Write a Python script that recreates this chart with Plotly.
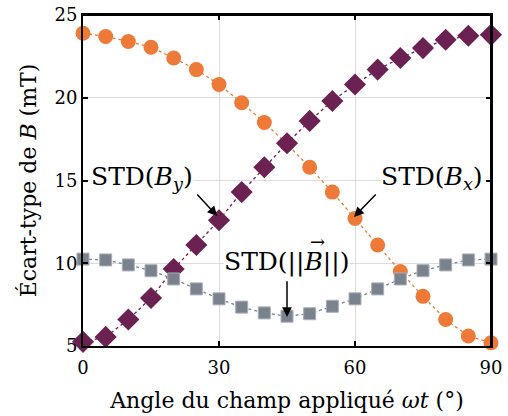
import plotly.graph_objects as go

angle = [0, 5, 10, 15, 20, 25, 30, 35, 40, 45, 50, 55, 60, 65, 70, 75, 80, 85, 90]
std_bx = [23.9, 23.7, 23.4, 23.05, 22.4, 21.7, 20.8, 19.7, 18.5, 17.2, 15.8, 14.3, 12.7, 11.1, 9.5, 8.0, 6.6, 5.6, 5.2]
std_by = [5.25, 5.55, 6.6, 7.9, 9.65, 11.1, 12.6, 14.3, 15.8, 17.25, 18.6, 19.8, 20.8, 21.7, 22.4, 23.0, 23.5, 23.75, 23.8]
std_bn = [10.25, 10.2, 9.9, 9.55, 9.05, 8.45, 7.85, 7.35, 7.0, 6.8, 6.95, 7.4, 7.85, 8.45, 9.05, 9.55, 9.9, 10.2, 10.25]

x_ticks = [0, 30, 60, 90]
y_ticks = [5, 10, 15, 20, 25]

c_bx = "#ED7A38"
c_by = "#6B2253"
c_bn = "#7A828E"

FONT = "DejaVu Serif"

fig = go.Figure()
fig.add_trace(go.Scatter(x=angle, y=std_bx, mode="lines+markers", cliponaxis=False,
                         line=dict(color=c_bx, dash="dot", width=1.3),
                         marker=dict(symbol="circle", size=15, color=c_bx)))
fig.add_trace(go.Scatter(x=angle, y=std_by, mode="lines+markers", cliponaxis=False,
                         line=dict(color=c_by, dash="dot", width=1.3),
                         marker=dict(symbol="diamond", size=17, color=c_by)))
fig.add_trace(go.Scatter(x=angle, y=std_bn, mode="lines+markers", cliponaxis=False,
                         line=dict(color=c_bn, dash="dot", width=1.3),
                         marker=dict(symbol="square", size=12, color=c_bn,
                                     line=dict(color="#A9AFB8", width=1))))

# frame lines on top and right of the plot area
fig.add_shape(type="line", xref="paper", yref="paper", x0=0, x1=1, y0=1, y1=1,
              line=dict(color="black", width=2), layer="above")
fig.add_shape(type="line", xref="paper", yref="paper", x0=1, x1=1, y0=0, y1=1,
              line=dict(color="black", width=2), layer="above")

# arrows (head x,y ; tail x,y in data units)
arrows = [
    (29.6, 12.85, 24.9, 14.25),
    (59.8, 12.8, 64.9, 14.25),
    (45.0, 6.75, 45.0, 9.0),
]
for hx, hy, tx, ty in arrows:
    fig.add_annotation(x=hx, y=hy, ax=tx, ay=ty, xref="x", yref="y",
                       axref="x", ayref="y", text="", showarrow=True,
                       arrowhead=2, arrowsize=1.3, arrowwidth=1.5, arrowcolor="black")

labels = [
    (13.1, 15.15, "STD(<i>B</i><sub><i>y</i></sub>)"),
    (76.9, 15.15, "STD(<i>B</i><sub><i>x</i></sub>)"),
    (44.8, 10.1, "STD(||<i>B</i>||)"),
]
for lx, ly, txt in labels:
    fig.add_annotation(x=lx, y=ly, xref="x", yref="y", text=txt, showarrow=False,
                       bgcolor="white", font=dict(family=FONT, size=25, color="black"),
                       borderpad=0)
# vector arrow over B
fig.add_annotation(x=44.8, y=10.1, xref="x", yref="y", text="→", showarrow=False,
                   xshift=31, yshift=20, font=dict(family=FONT, size=18, color="black"))

axis_common = dict(showline=True, linecolor="black", linewidth=2, mirror="allticks",
                   ticks="inside", ticklen=5, tickwidth=1.5, tickcolor="black",
                   showgrid=True, gridcolor="#DCDCDC", gridwidth=1, zeroline=False,
                   automargin=False, ticklabeloverflow="allow",
                   tickfont=dict(family=FONT, size=18, color="black"))

fig.update_xaxes(range=[0, 90], tickvals=x_ticks, ticktext=[str(v) for v in x_ticks],
                 ticklabelstandoff=4,
                 title=dict(text="Angle du champ appliqué <i>ωt</i> (°)",
                            font=dict(family=FONT, size=22, color="black"), standoff=16),
                 **axis_common)
fig.update_yaxes(range=[5, 25], tickvals=y_ticks, ticktext=[str(v) for v in y_ticks],
                 title=dict(text="Écart-type de <i>B</i> (mT)",
                            font=dict(family=FONT, size=22, color="black"), standoff=12),
                 **axis_common)

fig.update_layout(width=508, height=416, showlegend=False,
                  margin=dict(l=83, r=17, t=15, b=70),
                  plot_bgcolor="white", paper_bgcolor="white")

fig.write_html("out.html", config={"displayModeBar": False},
               post_script="document.body.style.margin='0';document.body.style.overflow='hidden';")
